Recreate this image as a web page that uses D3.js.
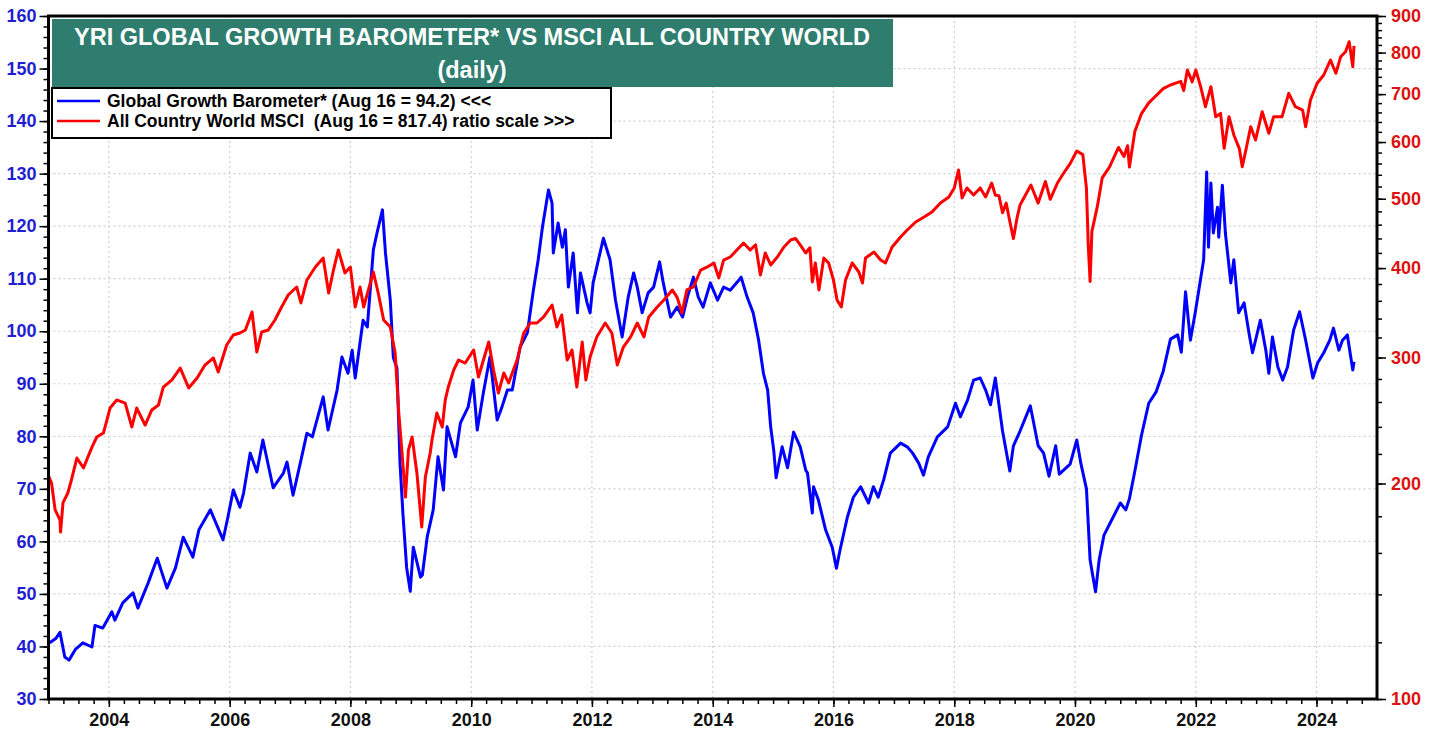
<!DOCTYPE html>
<html><head><meta charset="utf-8">
<script src="https://cdn.jsdelivr.net/npm/d3@7"></script>
<style>
html,body{margin:0;padding:0;background:#fff;}
svg{display:block;font-family:Arial,"Liberation Sans",sans-serif;}
</style></head><body>
<svg id="chart" width="1438" height="731"></svg>
<script>
// ---- DATA (dates as decimal years) ----
const barometerDates = [2003.02,2003.12,2003.19,2003.27,2003.34,2003.45,2003.57,2003.72,2003.77,2003.90,2004.05,2004.10,2004.23,2004.40,2004.48,2004.65,2004.80,2004.96,2005.10,2005.23,2005.39,2005.49,2005.68,2005.89,2005.97,2006.06,2006.17,2006.23,2006.34,2006.45,2006.55,2006.72,2006.89,2006.95,2007.05,2007.17,2007.28,2007.37,2007.55,2007.63,2007.78,2007.86,2007.96,2008.03,2008.08,2008.21,2008.28,2008.38,2008.44,2008.53,2008.58,2008.66,2008.71,2008.77,2008.82,2008.87,2008.93,2008.99,2009.04,2009.16,2009.19,2009.27,2009.37,2009.45,2009.54,2009.60,2009.74,2009.82,2009.95,2010.03,2010.10,2010.20,2010.31,2010.43,2010.51,2010.60,2010.68,2010.81,2010.93,2011.03,2011.11,2011.18,2011.28,2011.34,2011.36,2011.44,2011.51,2011.56,2011.61,2011.69,2011.76,2011.81,2011.92,2011.97,2012.02,2012.19,2012.30,2012.39,2012.50,2012.60,2012.69,2012.75,2012.83,2012.93,2013.02,2013.12,2013.18,2013.30,2013.41,2013.50,2013.58,2013.68,2013.76,2013.84,2013.96,2014.08,2014.18,2014.29,2014.41,2014.47,2014.57,2014.67,2014.76,2014.84,2014.91,2014.96,2015.01,2015.05,2015.15,2015.24,2015.34,2015.45,2015.54,2015.57,2015.65,2015.67,2015.75,2015.87,2015.98,2016.05,2016.11,2016.23,2016.33,2016.45,2016.58,2016.66,2016.74,2016.83,2016.94,2017.11,2017.22,2017.31,2017.41,2017.49,2017.57,2017.72,2017.89,2018.02,2018.10,2018.22,2018.32,2018.43,2018.52,2018.60,2018.68,2018.80,2018.92,2018.98,2019.09,2019.26,2019.39,2019.48,2019.57,2019.68,2019.74,2019.92,2020.03,2020.10,2020.19,2020.25,2020.28,2020.34,2020.40,2020.48,2020.63,2020.75,2020.84,2020.90,2020.99,2021.10,2021.22,2021.34,2021.46,2021.58,2021.70,2021.76,2021.83,2021.91,2021.99,2022.13,2022.18,2022.21,2022.25,2022.29,2022.36,2022.38,2022.44,2022.49,2022.58,2022.63,2022.71,2022.80,2022.88,2022.94,2023.07,2023.16,2023.21,2023.27,2023.36,2023.44,2023.52,2023.62,2023.72,2023.82,2023.94,2024.02,2024.12,2024.22,2024.28,2024.37,2024.43,2024.51,2024.60,2024.62];
const barometerValues = [40.7,41.5,42.7,38,37.4,39.5,40.7,39.9,44,43.5,46.6,45,48.3,50.2,47.3,52.1,56.8,51.1,54.9,60.8,57,62.2,66,60.3,64.6,69.8,66.5,69.2,76.8,73.2,79.3,70.2,73,75.1,68.8,74.9,80.6,79.9,87.5,81.2,88.8,95.1,92,96.4,91.1,102.1,100.8,115.5,118.7,123.1,114.9,105.9,95,93,75,65,55,50.5,58.9,53.2,53.6,60.8,66,76.1,69.8,81.8,76.1,82.5,85.6,90.7,81.2,88.2,95.1,83.1,85.6,88.8,88.8,97,99.7,107.8,113.6,119.8,126.9,124.4,114.9,120.6,116,119.3,108.4,114.9,103.5,111.1,105.4,103.5,109.2,117.7,113.6,105.9,98.9,106.5,111.1,108.4,103.5,107.3,108.4,113.2,109.2,102.7,104.6,102.7,106.5,110.3,106.5,104.6,109.2,105.9,108.4,107.8,109.4,110.3,106.5,103.5,98.3,92,88.8,81.8,77.4,72.1,78,74,80.8,78,73.6,73,65.4,70.4,67.9,62.2,58.9,54.9,58.4,64.6,68.4,70.4,67.3,70.4,68.4,71.7,76.8,78.7,78,76.8,74.9,72.6,76.1,79.9,81.8,86.3,83.7,86.9,90.7,91.1,88.8,86,91.1,81,73.4,78.2,81,85.8,78.2,76.8,72.4,78.2,72.8,74.7,79.3,74.7,70,56.5,54.4,50.4,56.5,61.2,64.6,67.3,66,68.1,73.4,80.2,86.3,88.4,92.4,98.5,99.3,96,107.5,98.3,103.5,113.6,130.3,116,128.2,118.7,123.6,117.9,127.8,118.7,109.2,113.6,103.5,105.4,99.7,95.9,102.1,96.4,92,98.9,93.2,90.7,93.2,100.2,103.7,98.3,91.1,94,95.9,98.3,100.6,96.4,98.3,99.3,92.6,94.2];

const msciDates = [2003.00,2003.05,2003.11,2003.19,2003.20,2003.24,2003.32,2003.38,2003.47,2003.58,2003.72,2003.80,2003.91,2004.02,2004.13,2004.27,2004.38,2004.46,2004.60,2004.71,2004.82,2004.90,2005.04,2005.18,2005.32,2005.46,2005.59,2005.73,2005.81,2005.95,2006.06,2006.17,2006.26,2006.37,2006.45,2006.53,2006.64,2006.75,2006.86,2006.97,2007.11,2007.18,2007.28,2007.42,2007.55,2007.64,2007.72,2007.80,2007.91,2008.00,2008.08,2008.16,2008.22,2008.33,2008.38,2008.46,2008.55,2008.66,2008.74,2008.80,2008.85,2008.91,2008.96,2009.02,2009.10,2009.18,2009.24,2009.32,2009.35,2009.43,2009.52,2009.57,2009.62,2009.71,2009.79,2009.90,2010.04,2010.12,2010.29,2010.37,2010.45,2010.54,2010.62,2010.76,2010.87,2010.98,2011.09,2011.20,2011.34,2011.42,2011.50,2011.59,2011.67,2011.75,2011.84,2011.90,2011.97,2012.08,2012.22,2012.33,2012.42,2012.52,2012.64,2012.75,2012.86,2012.94,2013.08,2013.19,2013.33,2013.41,2013.49,2013.57,2013.68,2013.80,2013.91,2014.02,2014.10,2014.18,2014.29,2014.40,2014.51,2014.62,2014.71,2014.79,2014.87,2014.96,2015.07,2015.18,2015.29,2015.37,2015.45,2015.54,2015.61,2015.65,2015.70,2015.76,2015.84,2015.92,2016.00,2016.06,2016.13,2016.20,2016.31,2016.42,2016.48,2016.53,2016.67,2016.78,2016.86,2016.97,2017.11,2017.22,2017.36,2017.50,2017.63,2017.77,2017.91,2018.00,2018.07,2018.13,2018.21,2018.32,2018.43,2018.52,2018.62,2018.68,2018.74,2018.80,2018.86,2018.92,2018.98,2019.04,2019.09,2019.27,2019.39,2019.51,2019.59,2019.71,2019.80,2019.92,2020.03,2020.13,2020.19,2020.22,2020.25,2020.28,2020.37,2020.45,2020.57,2020.72,2020.81,2020.87,2020.90,2020.99,2021.10,2021.22,2021.34,2021.46,2021.58,2021.75,2021.80,2021.86,2021.94,2022.00,2022.08,2022.16,2022.25,2022.33,2022.41,2022.47,2022.55,2022.63,2022.72,2022.77,2022.83,2022.91,2022.99,2023.10,2023.21,2023.29,2023.43,2023.54,2023.65,2023.77,2023.82,2023.90,2024.01,2024.12,2024.23,2024.32,2024.40,2024.48,2024.54,2024.60,2024.62];
const msciValues = [205,200.3,183.7,177.9,171.1,187.9,194,202.3,217.1,210.3,224.9,232.3,235.3,255,261.7,259.1,239.9,255,241.4,253.4,257.5,272.8,279,290,272,280.9,292.8,299.5,286.3,312.3,322.5,324.6,327.8,347.3,305.4,325.6,327.8,338.5,352.9,366.8,376.4,357.5,385,401.4,413.2,369.2,397.5,423.9,393.7,401.4,352.9,376.4,352.9,381.3,395,369.2,338.5,330.9,304.4,250.9,222.8,191.5,222.8,232.3,206.9,173.9,204.3,220.6,230.1,250.9,239.9,261.7,272.8,288.2,297.6,294.7,307.3,281.8,315.3,288.2,267.6,285.4,276.4,297.6,324.6,335.2,335.2,341.8,355.2,330.9,344,297.6,307.3,272.8,315.3,279,300.5,320.5,335.2,324.6,292.8,310.3,320.5,335.2,320.5,341.8,352.9,361,372.8,364,346.2,372.8,376.4,397.5,401.4,406.6,387.5,410.5,414.5,423.9,433.6,423.9,431,391.2,419.9,404,414.5,428.1,437.8,440,431,419.9,427,382.5,406.6,372.8,413.2,406.6,385,361,352.9,385,406.6,395,381.3,413.2,421.2,410.5,406.6,428.1,442.1,452.1,463.9,471.4,479.1,493.1,502.8,517.6,548.4,501.2,517.6,506,517.6,502.8,525.9,505.7,505,478,493,465,439.8,470,490,522.6,493,528.6,499,525.9,540.9,559.8,583,576.2,516.5,429.9,383.2,450.1,487.8,534.6,553.5,589.6,572.9,593,553.5,620.9,657.5,680.5,696.4,712.5,720.8,729.2,708,756.5,728,756.5,717,672.2,717,651,657.9,588,651,613.8,588,554.3,584.8,630.4,604,661.5,617.1,651,651,701.8,672.2,665.1,630.4,686.9,724.8,744.4,781.2,748.5,789.6,802.4,828.6,764.6,817.4];

const yearTicks = [2004,2006,2008,2010,2012,2014,2016,2018,2020,2022,2024];
const leftTicks = [30,40,50,60,70,80,90,100,110,120,130,140,150,160];
const rightTicks = [100,200,300,400,500,600,700,800,900];
const titleLines = ["YRI GLOBAL GROWTH BAROMETER* VS MSCI ALL COUNTRY WORLD","(daily)"];
const legendLabels = ["Global Growth Barometer* (Aug 16 = 94.2) <<<","All Country World MSCI  (Aug 16 = 817.4) ratio scale >>>"];

// ---- helpers ----
function toDate(y){const yr=Math.floor(y);const s=new Date(yr,0,1),e=new Date(yr+1,0,1);return new Date(+s+(y-yr)*(e-s));}
const barometer = barometerDates.map((d,i)=>({date:toDate(d),v:barometerValues[i]}));
const msci = msciDates.map((d,i)=>({date:toDate(d),v:msciValues[i]}));

const L=48.5,R=1377,T=16,B=699;
const BLUE="#0000ff",RED="#ff0000",LBLUE="#1f1fd2",LRED="#dd1111";
const svg=d3.select("#chart");
const x=d3.scaleTime().domain([new Date(2003,0,1),new Date(2025,0,1)]).range([L,R]);
const yL=d3.scaleLinear().domain([30,160]).range([B,T]);
const yR=d3.scaleLog().domain([100,900]).range([B,T]);

// gridlines
const grid=svg.append("g").attr("stroke","#cfcfcf").attr("stroke-width",1.2).attr("stroke-dasharray","2,3");
grid.selectAll("line.h").data(leftTicks.filter(v=>v>30&&v<160)).join("line")
  .attr("x1",L).attr("x2",R).attr("y1",d=>yL(d)).attr("y2",d=>yL(d));
grid.selectAll("line.v").data(yearTicks).join("line")
  .attr("y1",T).attr("y2",B).attr("x1",d=>x(new Date(d,0,1))).attr("x2",d=>x(new Date(d,0,1)));

// clip + lines
svg.append("clipPath").attr("id","clip").append("rect").attr("x",L).attr("y",T).attr("width",R-L).attr("height",B-T);
const lineL=d3.line().x(d=>x(d.date)).y(d=>yL(d.v));
const lineR=d3.line().x(d=>x(d.date)).y(d=>yR(d.v));
const lines=svg.append("g").attr("clip-path","url(#clip)");
lines.append("path").datum(barometer).attr("d",lineL).attr("fill","none").attr("stroke",BLUE).attr("stroke-width",3).attr("stroke-linejoin","round");
lines.append("path").datum(msci).attr("d",lineR).attr("fill","none").attr("stroke",RED).attr("stroke-width",3).attr("stroke-linejoin","round");

// axes
function styleAxis(g,color){g.select(".domain").remove();g.selectAll(".tick line").attr("stroke","#000").attr("stroke-width",1.5);
  g.selectAll("text").attr("fill",color).attr("font-weight","bold").attr("font-family","Arial, 'Liberation Sans', sans-serif");}
// left
const gLm=svg.append("g").attr("transform",`translate(${L},0)`).call(d3.axisLeft(yL).tickValues(d3.range(30,161,2)).tickSize(5).tickFormat(""));
styleAxis(gLm,LBLUE);
const gL=svg.append("g").attr("transform",`translate(${L},0)`).call(d3.axisLeft(yL).tickValues(leftTicks).tickSize(9).tickPadding(3).tickFormat(d3.format("d")));
styleAxis(gL,LBLUE); gL.selectAll("text").attr("font-size",18);
// right
const gRm=svg.append("g").attr("transform",`translate(${R},0)`).call(d3.axisRight(yR).tickValues(d3.range(100,901,20)).tickSize(5).tickFormat(""));
styleAxis(gRm,LRED);
const gR=svg.append("g").attr("transform",`translate(${R},0)`).call(d3.axisRight(yR).tickValues(rightTicks).tickSize(9).tickPadding(5).tickFormat(d3.format("d")));
styleAxis(gR,LRED); gR.selectAll("text").attr("font-size",18);
// bottom
const quarters=[];for(let yv=2003;yv<2025;yv++)for(let q=0;q<4;q++)quarters.push(new Date(yv,q*3,1));
const gBm=svg.append("g").attr("transform",`translate(0,${B})`).call(d3.axisBottom(x).tickValues(quarters).tickSize(5).tickFormat(""));
styleAxis(gBm,"#000");
const gB=svg.append("g").attr("transform",`translate(0,${B})`).call(d3.axisBottom(x).tickValues(yearTicks.map(y=>new Date(y,0,1))).tickSize(8).tickPadding(6).tickFormat(d3.timeFormat("%Y")));
styleAxis(gB,"#111"); gB.selectAll("text").attr("font-size",18);

// frame
svg.append("rect").attr("x",L).attr("y",T).attr("width",R-L).attr("height",B-T).attr("fill","none").attr("stroke","#000").attr("stroke-width",3);

// title box
svg.append("rect").attr("x",52).attr("y",19).attr("width",841).attr("height",68).attr("fill","#2f7d6f");
svg.selectAll("text.title").data(titleLines).join("text").attr("class","title")
  .attr("x",472).attr("y",(d,i)=>i===0?37:70).attr("text-anchor","middle").attr("dominant-baseline","central")
  .attr("fill","#fff").attr("font-weight","bold").attr("font-size",23.5).text(d=>d);

// legend
svg.append("rect").attr("x",52).attr("y",88).attr("width",559).attr("height",50).attr("fill","#fff").attr("stroke","#000").attr("stroke-width",2);
const legColors=[BLUE,RED];
legendLabels.forEach((t,i)=>{
  const yy=101+i*20;
  svg.append("line").attr("x1",57).attr("x2",100).attr("y1",yy).attr("y2",yy).attr("stroke",legColors[i]).attr("stroke-width",2.5);
  svg.append("text").attr("x",107).attr("y",yy).attr("dominant-baseline","central").attr("font-size",17.5).attr("font-weight","bold")
    .attr("fill","#000").style("white-space","pre").text(t);
});
</script></body></html>
